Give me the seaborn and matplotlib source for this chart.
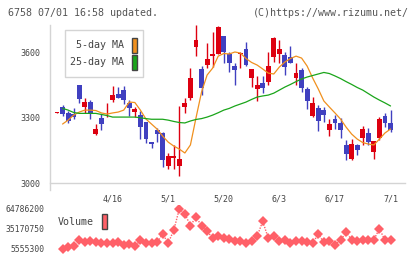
import numpy as np
import matplotlib
matplotlib.use("Agg")
import matplotlib.pyplot as plt
from matplotlib.patches import Rectangle
import seaborn as sns

# daily candles, oldest first (last one = 7/1)
opens = [3324, 3348, 3323, 3316, 3450, 3350, 3372, 3225, 3297, 3320,
         3381, 3409, 3427, 3366, 3325, 3312, 3282, 3190, 3243, 3229,
         3078, 3116, 3078, 3348, 3389, 3626, 3522, 3542, 3585, 3591,
         3675, 3592, 3537, 3591, 3615, 3484, 3432, 3461, 3465, 3580,
         3592, 3588, 3577, 3484, 3519, 3432, 3308, 3343, 3335, 3243,
         3292, 3274, 3175, 3110, 3175, 3208, 3231, 3144, 3208, 3308, 3277]
highs = [3326, 3358, 3330, 3343, 3450, 3389, 3381, 3270, 3317, 3369,
         3445, 3440, 3445, 3381, 3348, 3332, 3282, 3190, 3251, 3236,
         3139, 3175, 3354, 3389, 3527, 3726, 3537, 3642, 3692, 3722,
         3675, 3603, 3550, 3603, 3646, 3522, 3491, 3491, 3603, 3672,
         3657, 3603, 3629, 3553, 3530, 3442, 3394, 3358, 3348, 3294,
         3312, 3300, 3198, 3202, 3179, 3262, 3251, 3193, 3305, 3320, 3335]
lows = [3324, 3309, 3274, 3293, 3369, 3323, 3295, 3220, 3243, 3305,
        3372, 3389, 3363, 3308, 3305, 3202, 3182, 3160, 3190, 3072,
        3063, 3064, 3034, 3320, 3381, 3583, 3404, 3527, 3534, 3591,
        3550, 3511, 3450, 3527, 3537, 3442, 3378, 3415, 3450, 3554,
        3553, 3496, 3553, 3450, 3419, 3340, 3305, 3239, 3279, 3216,
        3248, 3208, 3106, 3106, 3129, 3175, 3175, 3110, 3198, 3259, 3233]
closes = [3326, 3317, 3286, 3305, 3384, 3372, 3320, 3248, 3271, 3324,
          3404, 3389, 3381, 3343, 3340, 3256, 3201, 3179, 3227, 3106,
          3124, 3124, 3109, 3369, 3481, 3657, 3438, 3572, 3592, 3718,
          3600, 3550, 3519, 3599, 3542, 3522, 3450, 3435, 3537, 3667,
          3615, 3534, 3553, 3507, 3438, 3378, 3366, 3286, 3312, 3271,
          3274, 3243, 3133, 3179, 3152, 3247, 3190, 3193, 3294, 3274, 3243]

# moving averages and volume, from the 2nd candle on
ma5 = [3271, 3289, 3312, 3326, 3335, 3335, 3333, 3322, 3317, 3322,
       3326, 3335, 3372, 3370, 3335, 3294, 3271, 3248, 3216, 3188,
       3170, 3156, 3138, 3175, 3299, 3418, 3496, 3528, 3583, 3595,
       3593, 3602, 3597, 3572, 3554, 3542, 3524, 3505, 3501, 3533,
       3556, 3572, 3583, 3574, 3537, 3482, 3432, 3377, 3349, 3322,
       3294, 3257, 3225, 3202, 3186, 3179, 3175, 3202, 3230, 3248]
ma25 = [3343, 3335, 3324, 3320, 3320, 3320, 3320, 3315, 3310, 3303,
        3303, 3303, 3303, 3303, 3300, 3296, 3293, 3293, 3293, 3289,
        3283, 3278, 3276, 3285, 3292, 3296, 3303, 3312, 3323, 3335,
        3343, 3354, 3363, 3372, 3384, 3395, 3400, 3404, 3413, 3427,
        3441, 3453, 3466, 3478, 3487, 3494, 3501, 3508, 3503, 3492,
        3480, 3466, 3453, 3439, 3427, 3411, 3395, 3381, 3368, 3354]
volume = [5555300, 8520000, 9550000, 18440000, 15480000, 16960000, 15480000, 14440000, 14440000, 14440000,
          15480000, 11920000, 12500000, 9550000, 18440000, 14440000, 14440000, 15480000, 27770000, 14440000,
          33250000, 64786200, 57830000, 40060000, 52940000, 40060000, 31760000, 21840000, 24360000, 21840000,
          20360000, 17850000, 17850000, 14440000, 17850000, 24360000, 46570000, 21840000, 24360000, 17850000,
          18880000, 14440000, 16960000, 16960000, 15480000, 14440000, 27770000, 15480000, 16960000, 11920000,
          18440000, 30280000, 19330000, 16960000, 19330000, 18440000, 19330000, 35610000, 18440000, 19330000]

date_labels = ['4/16', '5/1', '5/20', '6/3', '6/17', '7/1']
date_pos = [10, 20, 30, 40, 50, 60]

RED = '#dd0010'
BLUE = '#4040c0'
ORANGE = '#f0901e'
GREEN = '#1aa51a'
PINK = '#ff6068'
TXT = '#444444'
GRID = '#d4d4d4'
MONO = 'DejaVu Sans Mono'

sns.set_theme(style='white')
plt.rcParams['font.family'] = [MONO, 'DejaVu Sans']

W, H = 420, 259
fig = plt.figure(figsize=(W / 100, H / 100), dpi=100)
fig.patch.set_facecolor('white')

ax = fig.add_axes([50 / W, 1 - 190 / H, 355 / W, 165 / H])
n = len(closes)
x = np.arange(n)
up = [c >= o for o, c in zip(opens, closes)]
cols = [RED if u else BLUE for u in up]
ax.vlines(x, lows, highs, colors=cols, linewidth=1, zorder=2)
bottoms = [min(o, c) for o, c in zip(opens, closes)]
heights = [max(abs(c - o), 4) for o, c in zip(opens, closes)]
ax.bar(x, heights, bottom=bottoms, width=0.88, color=cols, linewidth=0, zorder=3)

xm = np.arange(1, n)
sns.lineplot(x=xm, y=ma5, ax=ax, color=ORANGE, linewidth=0.9, zorder=4)
sns.lineplot(x=xm, y=ma25, ax=ax, color=GREEN, linewidth=0.9, zorder=4)

xlim = (-1.26, 62.6)
ax.set_xlim(*xlim)
ax.set_ylim(2968, 3726)
for s in ['top', 'right']:
    ax.spines[s].set_visible(False)
for s in ['left', 'bottom']:
    ax.spines[s].set_color(GRID)
    ax.spines[s].set_linewidth(1)
ax.spines['bottom'].set_position(('data', 3000))
ax.set_yticks([3000, 3300, 3600])
ax.set_yticklabels(['3000', '3300', '3600'])
ax.set_xticks(np.linspace(xlim[0], xlim[1], 12))
ax.set_xticklabels([])
ax.set_xticks(date_pos, minor=True)
ax.set_xticklabels(date_labels, minor=True)
ax.tick_params(axis='y', direction='inout', length=6, width=1, color=GRID,
               labelsize=6, labelcolor=TXT, pad=4)
ax.tick_params(axis='x', which='major', direction='inout', length=6, width=1, color=GRID)
ax.tick_params(axis='x', which='minor', length=0, labelsize=6, labelcolor=TXT, pad=8)
ax.grid(False)

# legend box
fig.patches.append(Rectangle((65 / W, 1 - 77 / H), 78 / W, 47 / H, transform=fig.transFigure,
                             facecolor='white', edgecolor=GRID, linewidth=1, zorder=5))
for label, yy, c in [('5-day MA', 45, ORANGE), ('25-day MA', 62, GREEN)]:
    fig.text(124.5 / W, 1 - yy / H, label, ha='right', va='center', fontsize=7.2,
             color=TXT, zorder=6)
    fig.patches.append(Rectangle((131.5 / W, 1 - (yy + 7.5) / H), 5.5 / W, 14.5 / H,
                                 transform=fig.transFigure, facecolor=c,
                                 edgecolor='#444444', linewidth=1, zorder=6))

# volume panel
axv = fig.add_axes([50 / W, 1 - 253 / H, 355 / W, 48 / H])
vmin, vmax = min(volume), max(volume)
pad = (vmax - vmin) * 4 / 40
sns.lineplot(x=xm, y=volume, ax=axv, color=PINK, linewidth=1, linestyle=(0, (1, 1)),
             marker='D', markersize=4.6, markeredgewidth=0)
axv.set_xlim(*xlim)
axv.set_ylim(vmin - pad, vmax + pad)
axv.set_yticks([vmin, (vmin + vmax) / 2, vmax])
axv.set_yticklabels([f'{int(v)}' for v in [vmin, (vmin + vmax) / 2, vmax]])
axv.set_xticks([])
axv.set_xlabel('')
axv.set_ylabel('')
axv.tick_params(axis='y', length=0, labelsize=5.8, labelcolor=TXT, pad=4)
for s in axv.spines.values():
    s.set_visible(False)
axv.patch.set_alpha(0)
fig.text(58 / W, 1 - 222 / H, 'Volume', ha='left', va='center', fontsize=7.2, color=TXT)
fig.patches.append(Rectangle((101.5 / W, 1 - 228.5 / H), 6 / W, 15 / H, transform=fig.transFigure,
                             facecolor=PINK, edgecolor='#444444', linewidth=1, zorder=6))

fig.text(8 / W, 1 - 13 / H, '6758 07/01 16:58 updated.', ha='left', va='center',
         fontsize=7.2, color='#555555')
fig.text(409 / W, 1 - 12.5 / H, '(C)https://www.rizumu.net/', ha='right', va='center',
         fontsize=7.2, color='#555555')

fig.savefig('out.png', dpi=100, facecolor='white')
